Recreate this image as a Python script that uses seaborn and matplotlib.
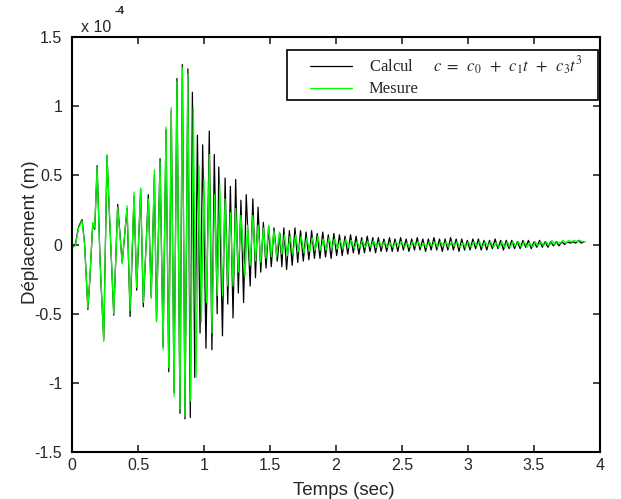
import numpy as np
import pandas as pd
import matplotlib
matplotlib.use("Agg")
import matplotlib.pyplot as plt
from matplotlib.patches import Rectangle
import seaborn as sns

# deplacement en 1e-4 m, extrema
calcul_t = [0.000, 0.025, 0.050, 0.076, 0.095, 0.120, 0.135, 0.157, 0.172, 0.190,
            0.212, 0.222, 0.240, 0.265, 0.282, 0.316, 0.346, 0.380, 0.417, 0.440,
            0.470, 0.490, 0.520, 0.540, 0.578, 0.600, 0.624, 0.640, 0.667, 0.690,
            0.712, 0.733, 0.752, 0.773, 0.795, 0.818, 0.836, 0.856, 0.878, 0.896,
            0.912, 0.930, 0.950, 0.970, 0.990, 1.015, 1.040, 1.060, 1.078, 1.100,
            1.112, 1.140, 1.160, 1.180, 1.200, 1.220, 1.240, 1.260, 1.280, 1.300,
            1.320, 1.350, 1.370, 1.390, 1.410, 1.430, 1.450, 1.470, 1.490, 1.510,
            1.530, 1.555, 1.575, 1.590]
calcul_v = [-0.02, 0.00, 0.13, 0.18, 0.01, -0.47, -0.25, 0.15, 0.11, 0.57,
            -0.10, -0.33, -0.69, 0.64, 0.25, -0.51, 0.29, -0.13, 0.26, -0.52,
            0.35, -0.33, 0.40, -0.45, 0.36, -0.38, 0.50, -0.55, 0.62, -0.74,
            0.83, -0.92, 0.97, -1.07, 1.20, -1.22, 1.30, -1.26, 1.27, -1.25,
            1.10, -0.96, 0.79, -0.64, 0.72, -0.75, 0.82, -0.76, 0.65, -0.50,
            0.56, -0.66, 0.48, -0.43, 0.42, -0.53, 0.47, -0.35, 0.32, -0.42,
            0.36, -0.30, 0.33, -0.24, 0.27, -0.20, 0.16, -0.17, 0.13, -0.16,
            0.12, -0.12, 0.08, -0.16]
calcul_tail = [0.12, -0.18, 0.10, -0.15, 0.12, -0.13, 0.10, -0.12, 0.09, -0.11,
               0.10, -0.10, 0.08, -0.10, 0.09, -0.09, 0.07, -0.10, 0.08, -0.08,
               0.07, -0.08, 0.06, -0.07, 0.07, -0.06, 0.06, -0.07, 0.05, -0.06,
               0.06, -0.05, 0.05, -0.06, 0.05, -0.05, 0.04, -0.05, 0.05, -0.05,
               0.04, -0.05, 0.05, -0.04, 0.04, -0.05, 0.04, -0.04, 0.05, -0.04,
               0.04, -0.05, 0.04, -0.04, 0.05, -0.04, 0.04, -0.05, 0.04, -0.04,
               0.05, -0.04, 0.04, -0.05, 0.04, -0.04, 0.03, -0.04, 0.04, -0.03,
               0.04, -0.04, 0.03, -0.04, 0.03, -0.03, 0.04, -0.03, 0.03, -0.04,
               0.03, -0.03, 0.03, -0.03, 0.02, -0.03, 0.03, -0.02, 0.03, -0.03,
               0.02, -0.02, 0.03, -0.02, 0.02, -0.02, 0.02, -0.01, 0.02, -0.01,
               0.02, 0.00, 0.02, 0.01, 0.02, 0.01, 0.03, 0.01, 0.02]
calcul_tail_span = (1.605, 3.880)

mesure_t = [0.000, 0.025, 0.050, 0.076, 0.095, 0.120, 0.135, 0.157, 0.172, 0.190,
            0.212, 0.222, 0.240, 0.265, 0.282, 0.316, 0.346, 0.380, 0.417, 0.440,
            0.470, 0.490, 0.520, 0.540, 0.578, 0.600, 0.624, 0.640, 0.667, 0.690,
            0.712, 0.733, 0.752, 0.773, 0.795, 0.818, 0.836, 0.856, 0.877, 0.899,
            0.919, 0.940, 0.962, 0.980, 1.000, 1.020, 1.040, 1.060, 1.080, 1.100,
            1.120, 1.140, 1.160, 1.180, 1.200, 1.220, 1.240, 1.260, 1.280, 1.310,
            1.330, 1.350, 1.370, 1.390, 1.410, 1.430, 1.450, 1.470, 1.490, 1.510,
            1.530, 1.550, 1.570, 1.590]
mesure_v = [-0.02, -0.01, 0.12, 0.17, 0.00, -0.46, -0.24, 0.16, 0.12, 0.56,
            -0.12, -0.31, -0.70, 0.65, 0.27, -0.50, 0.27, -0.14, 0.28, -0.48,
            0.38, -0.31, 0.41, -0.42, 0.33, -0.39, 0.54, -0.56, 0.60, -0.76,
            0.85, -0.89, 0.99, -1.10, 1.18, -1.19, 1.28, -1.24, 1.23, -1.13,
            0.99, -0.96, 0.57, -0.56, 0.47, -0.42, 0.65, -0.64, 0.36, -0.37,
            0.43, -0.37, 0.33, -0.30, 0.23, -0.30, 0.26, -0.20, 0.21, -0.23,
            0.14, -0.15, 0.21, -0.12, 0.14, -0.13, 0.12, -0.10, 0.14, -0.09,
            0.10, -0.09, 0.09, -0.07]
mesure_tail = [0.07, -0.08, 0.06, -0.07, 0.07, -0.05, 0.06, -0.06, 0.05, -0.05,
               0.05, -0.04, 0.06, -0.04, 0.04, -0.04, 0.05, -0.03, 0.04, -0.03,
               0.03, -0.03, 0.04, -0.02, 0.03, -0.03, 0.02, -0.02, 0.03, -0.02,
               0.02, -0.02, 0.03, -0.02, 0.02, -0.01, 0.02, -0.02, 0.01, -0.02,
               0.02, -0.01, 0.02, -0.02, 0.01, -0.02, 0.02, -0.01, 0.02, -0.02,
               0.01, -0.02, 0.02, -0.01, 0.02, -0.02, 0.02, -0.01, 0.02, -0.02,
               0.02, -0.01, 0.02, -0.02, 0.01, -0.02, 0.02, -0.02, 0.02, -0.01,
               0.02, -0.02, 0.02, -0.01, 0.02, -0.02, 0.01, -0.02, 0.02, -0.02,
               0.02, -0.02, 0.02, -0.01, 0.02, -0.02, 0.02, -0.02, 0.01, -0.02,
               0.02, -0.01, 0.02, -0.01, 0.02, -0.01, 0.03, 0.00, 0.02, 0.01,
               0.03, 0.01, 0.03, 0.02, 0.03, 0.02, 0.03, 0.02, 0.02]
mesure_tail_span = (1.610, 3.890)

yticks = [-1.5, -1, -0.5, 0, 0.5, 1, 1.5]
xticks = [0, 0.5, 1, 1.5, 2, 2.5, 3, 3.5, 4]


def serie(t, v, tail, span, name):
    tt = np.linspace(span[0], span[1], len(tail))
    return pd.DataFrame({"t": list(t) + list(tt), "v": list(v) + list(tail), "serie": name})


df = pd.concat([serie(calcul_t, calcul_v, calcul_tail, calcul_tail_span, "Calcul"),
                serie(mesure_t, mesure_v, mesure_tail, mesure_tail_span, "Mesure")])

sns.set_style("ticks")
plt.rcParams["font.family"] = ["Liberation Sans", "DejaVu Sans"]
plt.rcParams["mathtext.fontset"] = "stix"

fig = plt.figure(figsize=(6.21, 4.99), dpi=100)
ax = fig.add_axes([0.116, 0.094, 0.850, 0.832])

sns.lineplot(data=df, x="t", y="v", hue="serie", hue_order=["Calcul", "Mesure"],
             palette={"Calcul": "black", "Mesure": "#00ff00"}, sort=False,
             estimator=None, linewidth=0.9, ax=ax, legend=False)

ax.set_xlim(0, 4)
ax.set_ylim(-1.5, 1.5)
ax.set_xticks(xticks)
ax.set_xticklabels([f"{x:g}" for x in xticks])
ax.set_yticks(yticks)
ax.set_yticklabels([f"{y:g}" for y in yticks])
ax.tick_params(direction="in", top=True, right=True, length=5, width=1.2,
               labelsize=11.5)
ax.tick_params(axis="y", pad=7)
ax.tick_params(axis="x", pad=4)
for s in ax.spines.values():
    s.set_linewidth(1.5)
    s.set_color("black")

ax.set_xlabel("Temps (sec)", fontsize=13.5)
ax.set_ylabel("Déplacement (m)", fontsize=13.5)
ax.xaxis.set_label_coords(0.515, -0.072)
ax.yaxis.set_label_coords(-0.063, 0.53)

fig.text(0.130, 0.930, "x 10", fontsize=11.5, ha="left", va="bottom")
fig.text(0.185, 0.968, "-4", fontsize=8, fontweight="bold", ha="left", va="bottom")

# cadre de legende style matlab (plus large que le contenu)
ax.add_patch(Rectangle((0.407, 0.848), 0.589, 0.121, transform=ax.transAxes,
                       facecolor="white", edgecolor="black", linewidth=1.2,
                       zorder=4, clip_on=False))
handles = [plt.Line2D([], [], color="black", lw=0.9),
           plt.Line2D([], [], color="#00ff00", lw=0.9)]
labels = [r"Calcul     $c\ =\,\ c_0\,\ +\,\ c_1 t\,\ +\,\ c_3 t^3$", "Mesure"]
leg = ax.legend(handles, labels, loc="upper right", bbox_to_anchor=(0.977, 0.969),
                frameon=False, prop={"family": "Liberation Serif", "size": 12},
                handlelength=2.5, borderpad=0.3, labelspacing=0.25,
                borderaxespad=0.0, handletextpad=1.0)
leg.set_zorder(5)

fig.savefig("out.png", dpi=100, facecolor="white")
